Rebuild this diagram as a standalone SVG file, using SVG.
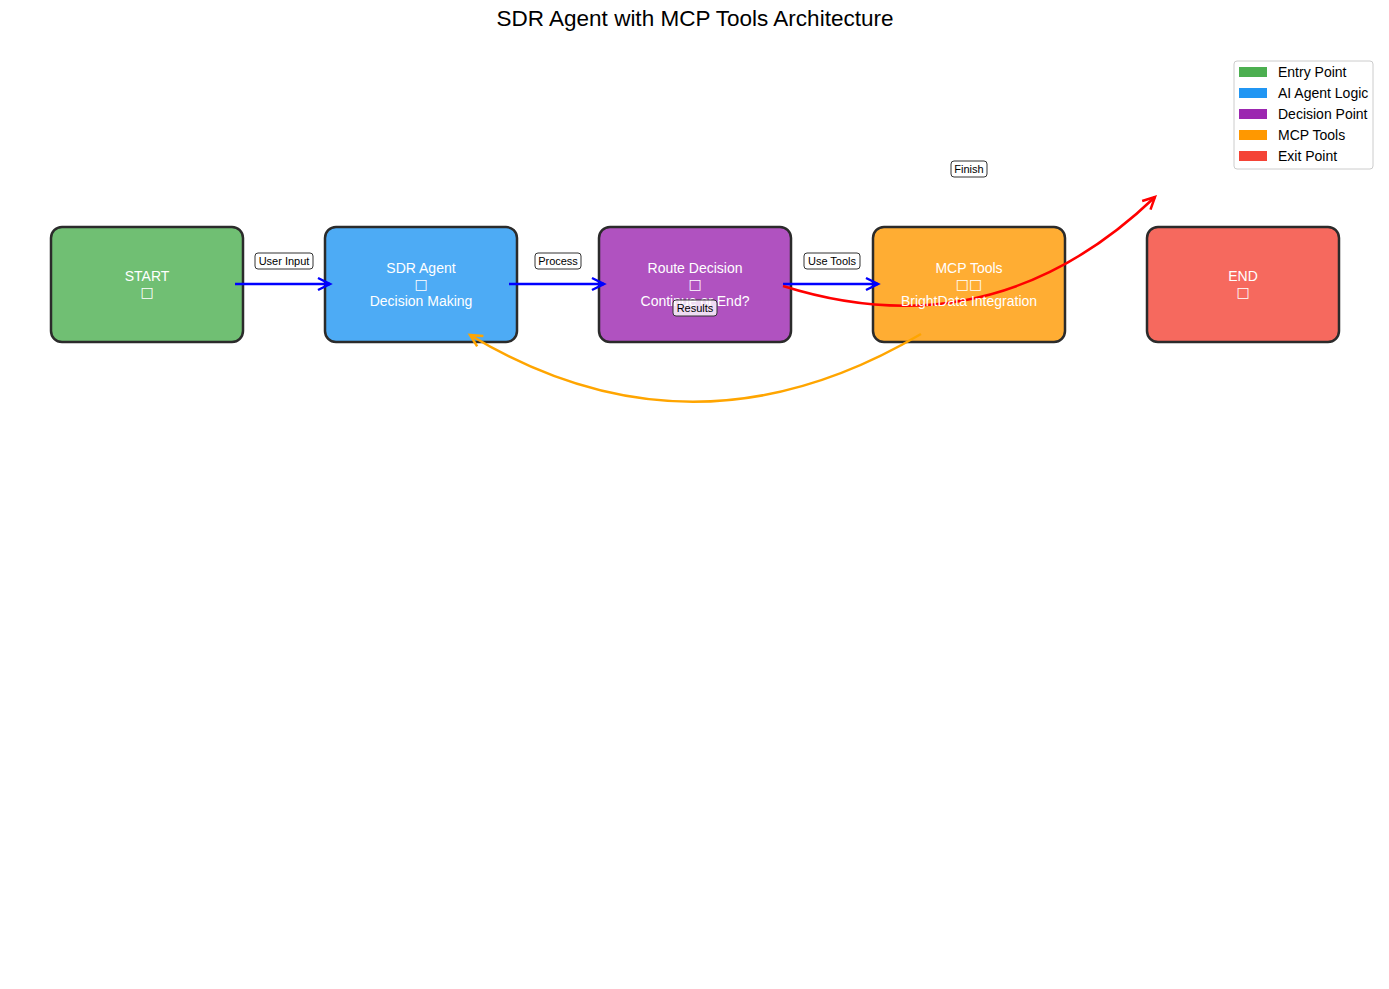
<svg xmlns="http://www.w3.org/2000/svg" width="1389" height="989" viewBox="0 0 1389 989">
<style>
.node{stroke:#2b2b2b;stroke-width:2.5;fill-opacity:0.8}
.nt{font-family:"Liberation Sans",Arial,sans-serif;font-size:14px;fill:#ffffff;text-anchor:middle}
.tofu{font-family:"DejaVu Sans",sans-serif;font-size:14px;fill:#ffffff;text-anchor:middle}
.lb{fill:#ffffff;fill-opacity:0.8;stroke:#333;stroke-width:1}
.lt{font-family:"Liberation Sans",Arial,sans-serif;font-size:11px;fill:#000;text-anchor:middle}
.edge{fill:none;stroke-width:2.5}
.leg{font-family:"Liberation Sans",Arial,sans-serif;font-size:14px;fill:#000}
</style>
<defs>
<marker id="hb" markerUnits="userSpaceOnUse" markerWidth="20" markerHeight="20" refX="0" refY="0" orient="auto" overflow="visible"><path d="M-12,-6 L0,0 L-12,6" fill="none" stroke="#0000ff" stroke-width="2.5"/></marker>
<marker id="hr" markerUnits="userSpaceOnUse" markerWidth="20" markerHeight="20" refX="0" refY="0" orient="auto" overflow="visible"><path d="M-12,-6 L0,0 L-12,6" fill="none" stroke="#ff0000" stroke-width="2.5"/></marker>
<marker id="ho" markerUnits="userSpaceOnUse" markerWidth="20" markerHeight="20" refX="0" refY="0" orient="auto" overflow="visible"><path d="M-12,-6 L0,0 L-12,6" fill="none" stroke="#ffa500" stroke-width="2.5"/></marker>
</defs>
<rect width="1389" height="989" fill="#ffffff"/>
<text x="695" y="26" font-family="'Liberation Sans',Arial,sans-serif" font-size="22.5" text-anchor="middle" fill="#000">SDR Agent with MCP Tools Architecture</text>

<g id="start"><rect class="node" x="51" y="227" width="192" height="115" rx="11" fill="#4CAF50"/></g>
<g id="sdr"><rect class="node" x="325" y="227" width="192" height="115" rx="11" fill="#2196F3"/></g>
<g id="route"><rect class="node" x="599" y="227" width="192" height="115" rx="11" fill="#9C27B0"/></g>
<g id="mcp"><rect class="node" x="873" y="227" width="192" height="115" rx="11" fill="#FF9800"/></g>
<g id="end"><rect class="node" x="1147" y="227" width="192" height="115" rx="11" fill="#F44336"/></g>

<g id="connectors">
<path class="edge" stroke="#0000ff" d="M235,284 L330,284" marker-end="url(#hb)"/>
<path class="edge" stroke="#0000ff" d="M509,284 L604,284" marker-end="url(#hb)"/>
<path class="edge" stroke="#0000ff" d="M783,284 L878,284" marker-end="url(#hb)"/>
<path class="edge" stroke="#ff0000" d="M783,286 Q993,352 1155,197" marker-end="url(#hr)"/>
<path class="edge" stroke="#ffa500" d="M921,334 Q692,469 470,335" marker-end="url(#ho)"/>
</g>

<g id="start-text"><text class="nt" x="147" y="281">START</text><text class="tofu" x="147" y="297">□</text></g>
<g id="sdr-text"><text class="nt" x="421" y="273">SDR Agent</text><text class="tofu" x="421" y="289">□</text><text class="nt" x="421" y="306">Decision Making</text></g>
<g id="route-text"><text class="nt" x="695" y="273">Route Decision</text><text class="tofu" x="695" y="289">□</text><text class="nt" x="695" y="306">Continue or End?</text></g>
<g id="mcp-text"><text class="nt" x="969" y="273">MCP Tools</text><text class="tofu" x="969" y="289">□□</text><text class="nt" x="969" y="306">BrightData Integration</text></g>
<g id="end-text"><text class="nt" x="1243" y="281">END</text><text class="tofu" x="1243" y="297">□</text></g>

<g id="labels">
<rect class="lb" x="255" y="253" width="58" height="16" rx="3"/><text class="lt" x="284" y="265">User Input</text>
<rect class="lb" x="535" y="253" width="46" height="16" rx="3"/><text class="lt" x="558" y="265">Process</text>
<rect class="lb" x="804" y="253" width="56" height="16" rx="3"/><text class="lt" x="832" y="265">Use Tools</text>
<rect class="lb" x="951" y="161" width="36" height="16" rx="3"/><text class="lt" x="969" y="173">Finish</text>
<rect class="lb" x="673" y="300" width="44" height="16" rx="3"/><text class="lt" x="695" y="312">Results</text>
</g>

<g id="legend">
<rect x="1234" y="61" width="139" height="108" rx="3" fill="#ffffff" fill-opacity="0.8" stroke="#cccccc" stroke-width="1"/>
<rect x="1239" y="67" width="28" height="10" fill="#4CAF50"/><text class="leg" x="1278" y="77">Entry Point</text>
<rect x="1239" y="88" width="28" height="10" fill="#2196F3"/><text class="leg" x="1278" y="98">AI Agent Logic</text>
<rect x="1239" y="109" width="28" height="10" fill="#9C27B0"/><text class="leg" x="1278" y="119">Decision Point</text>
<rect x="1239" y="130" width="28" height="10" fill="#FF9800"/><text class="leg" x="1278" y="140">MCP Tools</text>
<rect x="1239" y="151" width="28" height="10" fill="#F44336"/><text class="leg" x="1278" y="161">Exit Point</text>
</g>
</svg>
